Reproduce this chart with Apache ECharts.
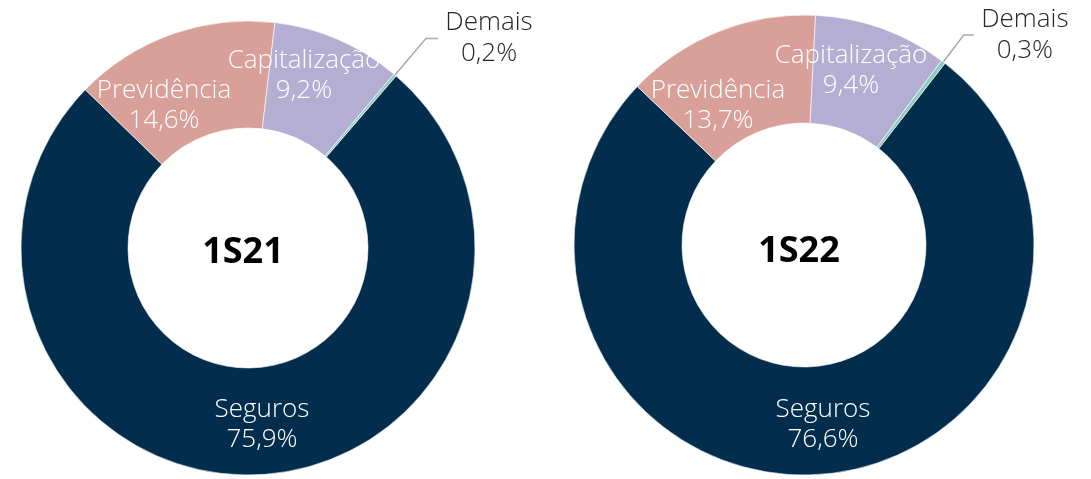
<!DOCTYPE html>
<html style="height: 100%">
   <head>
       <meta charset="utf-8">
   </head>
   <body style="height: 100%; margin: 0; background: #fff">
       <div id="container" style="width: 1091px; height: 479px"></div>
       <script type="text/javascript" src="https://cdn.jsdelivr.net/npm/echarts@6/dist/echarts.min.js"></script>
       <script type="text/javascript">
// categories and values (percent)
var categories = ['Seguros', 'Previdência', 'Capitalização', 'Demais'];
var values1S21 = [75.9, 14.6, 9.2, 0.2];
var values1S22 = [76.6, 13.7, 9.4, 0.3];
var periods = ['1S21', '1S22'];

var colors = ['#022d4d', '#d9a09a', '#b3aed2', '#8dcac0'];
var labelFont = '"Open Sans", "Noto Sans", sans-serif';

// where the inside labels sit (pixel centres), per donut
var labelPos = [
    [[262, 425], [164, 106], [304, 76]],
    [[823, 425], [718, 106], [851, 71]]
];
// leader line lengths for the small slice
var leader = [[48, 12], [34, 10]];

var dom = document.getElementById("container");
var myChart = echarts.init(dom);

function fmt(v) {
    return v.toFixed(1).replace('.', ',') + '%';
}

function buildData(idx, vals) {
    var out = [];
    for (var i = 0; i < categories.length; i++) {
        var item = {name: categories[i], value: vals[i], itemStyle: {color: colors[i]}};
        if (categories[i] === 'Demais') {
            item.label = {
                position: 'outside',
                color: '#262626',
                distanceToLabelLine: 6,
                formatter: function (p) {
                    return '{d|' + p.name + '}\n{d|' + fmt(p.value) + '}';
                },
                rich: {
                    d: {width: 90, align: 'center', fontSize: 26, lineHeight: 31, color: '#262626',
                        fontFamily: labelFont, fontWeight: 300}
                }
            };
            item.labelLine = {show: true, length: leader[idx][0], length2: leader[idx][1],
                lineStyle: {color: '#a6a6a6', width: 1.5}};
        }
        out.push(item);
    }
    return out;
}

function donut(idx, vals, center, radius, startAngle) {
    return {
        type: 'pie',
        center: center,
        radius: radius,
        startAngle: startAngle,
        clockwise: true,
        avoidLabelOverlap: false,
        silent: true,
        itemStyle: {borderColor: '#ffffff', borderWidth: 0.6},
        label: {
            show: true,
            position: 'inside',
            color: '#ffffff',
            fontSize: 26,
            lineHeight: 30,
            fontFamily: labelFont,
            fontWeight: 300,
            align: 'center',
            verticalAlign: 'middle',
            formatter: function (p) {
                return p.name + '\n' + fmt(p.value);
            }
        },
        labelLine: {show: false},
        labelLayout: function (p) {
            var pos = labelPos[idx][p.dataIndex];
            if (!pos) return {};
            return {x: pos[0], y: pos[1], align: 'center', verticalAlign: 'middle'};
        },
        data: buildData(idx, vals)
    };
}

var option = {
    animation: false,
    graphic: [
        {type: 'text', x: 243, y: 253, style: {text: periods[0], align: 'center', verticalAlign: 'middle',
            fontSize: 36, fontWeight: 'bold', fontFamily: '"Noto Sans", sans-serif', fill: '#000'}},
        {type: 'text', x: 799, y: 252, style: {text: periods[1], align: 'center', verticalAlign: 'middle',
            fontSize: 36, fontWeight: 'bold', fontFamily: '"Noto Sans", sans-serif', fill: '#000'}}
    ],
    series: [
        donut(0, values1S21, [248, 248], [120, 227], 49.3),
        donut(1, values1S22, [804, 245], [122, 230], 52.2)
    ]
};
myChart.setOption(option, true);
       </script>
   </body>
</html>
